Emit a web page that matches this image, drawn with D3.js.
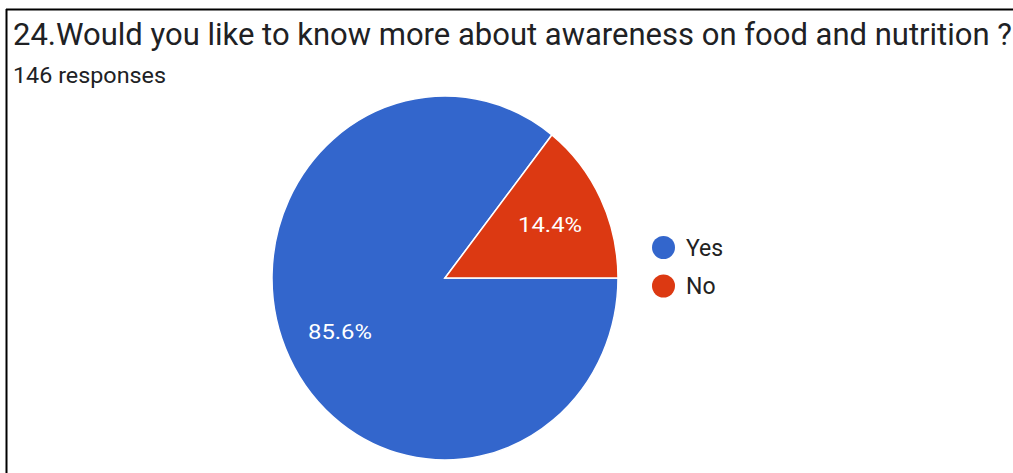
<!DOCTYPE html>
<html>
<head>
<meta charset="utf-8">
<script src="https://cdn.jsdelivr.net/npm/d3@7"></script>
<style>
  html, body { margin: 0; padding: 0; background: #fff; }
  svg { display: block; }
</style>
</head>
<body>
<svg id="chart" width="1013" height="473"></svg>
<script>
// Survey answers
const categories = ["Yes", "No"];
const values = [85.6, 14.4];
const labels = ["85.6%", "14.4%"];
const colors = ["#3366cc", "#dc3912"];

const title = "24.Would you like to know more about awareness on food and nutrition ?";
const subtitle = "146 responses";

const svg = d3.select("#chart");
const W = 1013, H = 473;

// Frame lines (top and left)
svg.append("line").attr("x1", 6).attr("x2", W).attr("y1", 9.5).attr("y2", 9.5)
  .attr("stroke", "#000").attr("stroke-width", 2);
svg.append("line").attr("x1", 6.5).attr("x2", 6.5).attr("y1", 9).attr("y2", H)
  .attr("stroke", "#000").attr("stroke-width", 2);

// Title and response count
svg.append("text").attr("x", 13).attr("y", 45)
  .attr("font-family", "Roboto, sans-serif").attr("font-size", 31)
  .attr("fill", "#202124").text(title);
svg.append("text").attr("x", 13).attr("y", 83)
  .attr("font-family", "Roboto, sans-serif").attr("font-size", 22)
  .attr("textLength", 153).attr("lengthAdjust", "spacingAndGlyphs")
  .attr("fill", "#202124").text(subtitle);

// Pie
const cx = 445, cy = 278, r = 173, sy = 182 / 173;
const pie = d3.pie().sort(null).value(d => d)
  .startAngle(Math.PI / 2).endAngle(Math.PI / 2 + 2 * Math.PI);
const arcs = pie(values);
const arc = d3.arc().innerRadius(0).outerRadius(r);
const labelArc = d3.arc().innerRadius(r * 0.675).outerRadius(r * 0.675);

const g = svg.append("g").attr("transform", `translate(${cx},${cy}) scale(1,${sy})`);
g.selectAll("path").data(arcs).join("path")
  .attr("d", arc)
  .attr("fill", (d, i) => colors[i])
  .attr("stroke", "#fff").attr("stroke-width", 1.5);

const lg = svg.append("g").attr("transform", `translate(${cx},${cy})`);
lg.selectAll("text").data(arcs).join("text")
  .attr("transform", d => {
    const [x, y] = labelArc.centroid(d);
    return `translate(${x},${y * sy})`;
  })
  .attr("text-anchor", "middle").attr("dy", "0.36em")
  .attr("font-family", "Roboto, sans-serif").attr("font-size", 21)
  .attr("textLength", 64).attr("lengthAdjust", "spacingAndGlyphs")
  .attr("fill", "#fff")
  .text((d, i) => labels[i]);

// Legend
const legend = svg.append("g").attr("transform", "translate(663.5,247.5)");
const items = legend.selectAll("g").data(categories).join("g")
  .attr("transform", (d, i) => `translate(0,${i * 38.5})`);
items.append("circle").attr("r", 11.5).attr("fill", (d, i) => colors[i]);
items.append("text").attr("x", 22.5).attr("dy", "0.36em")
  .attr("font-family", "Roboto, sans-serif").attr("font-size", 23)
  .attr("fill", "#222").text(d => d);
</script>
</body>
</html>
